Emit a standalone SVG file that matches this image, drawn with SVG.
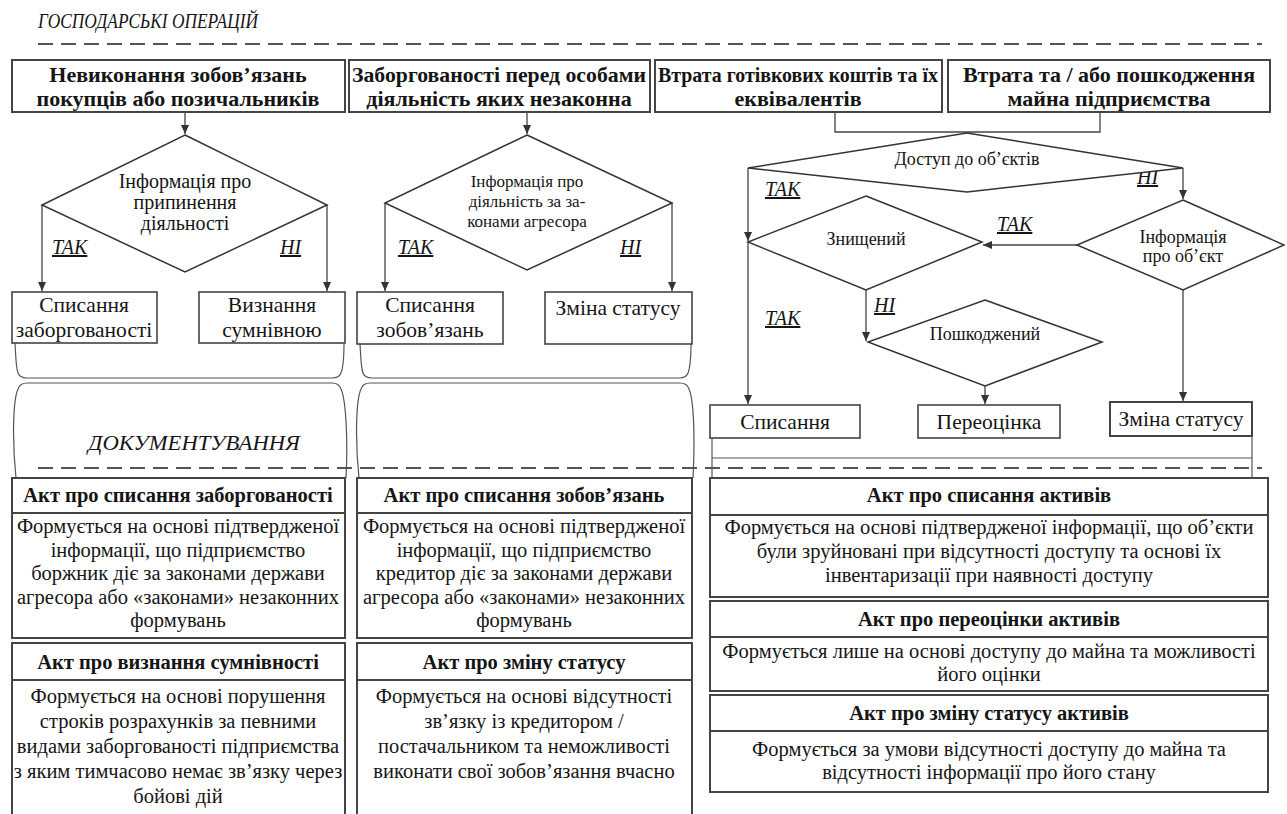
<svg xmlns="http://www.w3.org/2000/svg" width="1287" height="814" viewBox="0 0 1287 814">
<style>
text{font-family:"Liberation Serif",serif;fill:#151515;text-anchor:middle}
.b{font-weight:bold}
.hd{font-style:italic;font-size:22px}
.u{font-style:italic;text-decoration:underline;text-anchor:start;font-size:20px}
.top{font-weight:bold;font-size:22px}
.res{font-size:21.5px}
.dt{font-size:20px}
.ds{font-size:17px}
.dr{font-size:18px}
.doc{font-size:20.5px}
.box{fill:#fff;stroke:#444;stroke-width:1.6}
.tbox{fill:#fff;stroke:#444;stroke-width:2}
.ln{fill:none;stroke:#444;stroke-width:1.3}
.dia{fill:#fff;stroke:#333;stroke-width:1.5}
.dash{stroke:#555;stroke-width:2.2;stroke-dasharray:15 8;fill:none}
.br{fill:none;stroke:#555;stroke-width:1.2}
</style>
<defs>
<marker id="ah" viewBox="0 0 10 10" refX="10" refY="5" markerWidth="9" markerHeight="9" orient="auto" markerUnits="userSpaceOnUse"><path d="M0,0.5 L10,5 L0,9.5 z" fill="#333"/></marker>
</defs>
<rect width="1287" height="814" fill="#fff"/>

<g id="headers">
<text class="hd" x="148" y="28" textLength="220" lengthAdjust="spacingAndGlyphs">ГОСПОДАРСЬКІ ОПЕРАЦІЙ</text>
<path class="dash" d="M38,44 H1262"/>
<text class="hd" x="194" y="450" textLength="212" lengthAdjust="spacingAndGlyphs">ДОКУМЕНТУВАННЯ</text>
<path class="dash" d="M38,468 H1262"/>
</g>

<g id="connectors">
<path class="ln" d="M185,112 V134" marker-end="url(#ah)"/>
<path class="ln" d="M527,112 V134" marker-end="url(#ah)"/>
<path class="ln" d="M835,112 V132 H1100 V112"/>
<path class="ln" d="M42,205 V291" marker-end="url(#ah)"/>
<path class="ln" d="M327,205 V291" marker-end="url(#ah)"/>
<path class="ln" d="M385,203 V291" marker-end="url(#ah)"/>
<path class="ln" d="M672,203 V291" marker-end="url(#ah)"/>
<path class="ln" d="M748,168 V241" marker-end="url(#ah)"/>
<path class="ln" d="M748,242 V404" marker-end="url(#ah)"/>
<path class="ln" d="M1183,168 V199" marker-end="url(#ah)"/>
<path class="ln" d="M1077,245 H983" marker-end="url(#ah)"/>
<path class="ln" d="M866,290 V341" marker-end="url(#ah)"/>
<path class="ln" d="M985,386 V404" marker-end="url(#ah)"/>
<path class="ln" d="M1183,290 V401" marker-end="url(#ah)"/>
<path class="br" d="M15,343 C16,360 16,368 18,373 Q20,378 27,378 H332 Q339,378 341,373 C343,368 344,360 344,343"/>
<path class="br" d="M16,478 C12,440 13,400 18,389 Q20,383 27,383 H332 Q339,383 341,389 C346,400 348,440 346,478"/>
<path class="br" d="M360,344 C361,360 361,368 363,373 Q365,378 372,378 H679 Q686,378 688,373 C690,368 691,360 691,342"/>
<path class="br" d="M359,478 C355,440 356,400 361,389 Q363,383 370,383 H680 Q687,383 689,389 C694,400 695,440 693,478"/>
<path class="br" d="M712,438 V478 M1252,436 V478 M712,458 H1252"/>
<text class="u" x="52" y="254">ТАК</text>
<text class="u" x="280" y="254">НІ</text>
<text class="u" x="398" y="254">ТАК</text>
<text class="u" x="620" y="254">НІ</text>
<text class="u" x="765" y="196">ТАК</text>
<text class="u" x="1137" y="184">НІ</text>
<text class="u" x="997" y="231">ТАК</text>
<text class="u" x="765" y="325">ТАК</text>
<text class="u" x="874" y="312">НІ</text>
</g>

<g id="op-debtors">
<rect class="tbox" x="12" y="60" width="333" height="52"/>
<text class="top" x="178" y="82">Невиконання зобов’язань</text>
<text class="top" x="178" y="106">покупців або позичальників</text>
</g>
<g id="op-illegal">
<rect class="tbox" x="349" y="60" width="301" height="52"/>
<text class="top" x="499" y="82" textLength="294" lengthAdjust="spacingAndGlyphs">Заборгованості перед особами</text>
<text class="top" x="499" y="106">діяльність яких незаконна</text>
</g>
<g id="op-cash">
<rect class="tbox" x="655" y="60" width="287" height="52"/>
<text class="top" x="798" y="82" textLength="280" lengthAdjust="spacingAndGlyphs">Втрата готівкових коштів та їх</text>
<text class="top" x="798" y="106">еквівалентів</text>
</g>
<g id="op-property">
<rect class="tbox" x="948" y="60" width="322" height="52"/>
<text class="top" x="1109" y="82">Втрата та / або пошкодження</text>
<text class="top" x="1109" y="106">майна підприємства</text>
</g>

<g id="d-info-stop">
<polygon class="dia" points="185,135 327,205 185,272 42,205"/>
<text class="dt" x="185" y="188">Інформація про</text>
<text class="dt" x="185" y="209">припинення</text>
<text class="dt" x="185" y="230">діяльності</text>
</g>
<g id="d-info-aggr">
<polygon class="dia" points="527,135 672,203 527,270 385,203"/>
<text class="ds" x="527" y="187">Інформація про</text>
<text class="ds" x="527" y="207">діяльність за за-</text>
<text class="ds" x="527" y="227">конами агресора</text>
</g>
<g id="r-writeoff-debt">
<rect class="box" x="12" y="292" width="145" height="51"/>
<text class="res" x="84" y="312">Списання</text>
<text class="res" x="84" y="337">заборгованості</text>
</g>
<g id="r-doubtful">
<rect class="box" x="199" y="292" width="146" height="51"/>
<text class="res" x="272" y="312">Визнання</text>
<text class="res" x="272" y="337">сумнівною</text>
</g>
<g id="r-writeoff-liab">
<rect class="box" x="357" y="292" width="146" height="52"/>
<text class="res" x="430" y="312">Списання</text>
<text class="res" x="430" y="337">зобов’язань</text>
</g>
<g id="r-status-liab">
<rect class="box" x="545" y="292" width="147" height="52"/>
<text class="res" x="618" y="315">Зміна статусу</text>
</g>

<g id="d-access">
<polygon class="dia" points="967,133 1183,168 967,192 748,168"/>
<text class="dr" x="967" y="165">Доступ до об’єктів</text>
</g>
<g id="d-destroyed">
<polygon class="dia" points="866,196 982,242 866,290 748,242"/>
<text class="dr" x="866" y="245">Знищений</text>
</g>
<g id="d-info-obj">
<polygon class="dia" points="1183,200 1284,245 1183,290 1077,245"/>
<text class="dr" x="1183" y="243">Інформація</text>
<text class="dr" x="1183" y="262">про об’єкт</text>
</g>
<g id="d-damaged">
<polygon class="dia" points="985,300 1102,342 985,386 868,342"/>
<text class="dr" x="985" y="340">Пошкоджений</text>
</g>
<g id="r-writeoff">
<rect class="box" x="710" y="405" width="150" height="33"/>
<text class="res" x="785" y="429">Списання</text>
</g>
<g id="r-reval">
<rect class="box" x="918" y="405" width="142" height="33"/>
<text class="res" x="989" y="429">Переоцінка</text>
</g>
<g id="r-status">
<rect class="tbox" x="1110" y="402" width="142" height="34"/>
<text class="res" x="1181" y="426">Зміна статусу</text>
</g>

<g id="doc-left">
<rect class="tbox" x="12" y="478" width="333" height="35"/>
<rect class="tbox" x="12" y="513" width="333" height="125"/>
<rect class="tbox" x="12" y="643" width="333" height="37"/>
<path class="tbox" d="M12,815 V680 H345 V815"/>
<text class="doc b" x="178" y="502">Акт про списання заборгованості</text>
<text class="doc" x="178" y="533">Формується на основі підтвердженої</text>
<text class="doc" x="178" y="557">інформації, що підприємство</text>
<text class="doc" x="178" y="580">боржник діє за законами держави</text>
<text class="doc" x="178" y="604">агресора  або «законами» незаконних</text>
<text class="doc" x="178" y="627">формувань</text>
<text class="doc b" x="178" y="669">Акт про визнання сумнівності</text>
<text class="doc" x="178" y="703">Формується на основі порушення</text>
<text class="doc" x="178" y="728">строків розрахунків за певними</text>
<text class="doc" x="178" y="753">видами заборгованості підприємства</text>
<text class="doc" x="178" y="778">з яким тимчасово немає зв’язку через</text>
<text class="doc" x="178" y="803">бойові дій</text>
</g>

<g id="doc-middle">
<rect class="tbox" x="357" y="478" width="335" height="35"/>
<rect class="tbox" x="357" y="513" width="335" height="125"/>
<rect class="tbox" x="357" y="643" width="335" height="37"/>
<path class="tbox" d="M357,815 V680 H692 V815"/>
<text class="doc b" x="524" y="502">Акт про списання зобов’язань</text>
<text class="doc" x="524" y="533">Формується на основі підтвердженої</text>
<text class="doc" x="524" y="557">інформації, що підприємство</text>
<text class="doc" x="524" y="580">кредитор діє за законами держави</text>
<text class="doc" x="524" y="604">агресора  або «законами» незаконних</text>
<text class="doc" x="524" y="627">формувань</text>
<text class="doc b" x="524" y="669">Акт про зміну статусу</text>
<text class="doc" x="524" y="703">Формується на основі відсутності</text>
<text class="doc" x="524" y="728">зв’язку із кредитором /</text>
<text class="doc" x="524" y="753">постачальником та неможливості</text>
<text class="doc" x="524" y="778">виконати свої зобов’язання вчасно</text>
</g>

<g id="doc-right">
<rect class="tbox" x="710" y="478" width="558" height="37"/>
<rect class="tbox" x="710" y="515" width="558" height="82"/>
<rect class="tbox" x="710" y="601" width="558" height="36"/>
<rect class="tbox" x="710" y="637" width="558" height="54"/>
<rect class="tbox" x="710" y="695" width="558" height="36"/>
<rect class="tbox" x="710" y="731" width="558" height="61"/>
<text class="doc b" x="989" y="502">Акт про списання активів</text>
<text class="doc" x="989" y="534">Формується на основі підтвердженої інформації, що об’єкти</text>
<text class="doc" x="989" y="558">були зруйновані при відсутності доступу та основі їх</text>
<text class="doc" x="989" y="582">інвентаризації при наявності доступу</text>
<text class="doc b" x="989" y="626">Акт про переоцінки активів</text>
<text class="doc" x="989" y="658">Формується лише на основі доступу до майна та можливості</text>
<text class="doc" x="989" y="681">його оцінки</text>
<text class="doc b" x="989" y="720">Акт про зміну статусу активів</text>
<text class="doc" x="989" y="756">Формується за умови відсутності доступу до майна та</text>
<text class="doc" x="989" y="779">відсутності інформації про його стану</text>
</g>
</svg>
